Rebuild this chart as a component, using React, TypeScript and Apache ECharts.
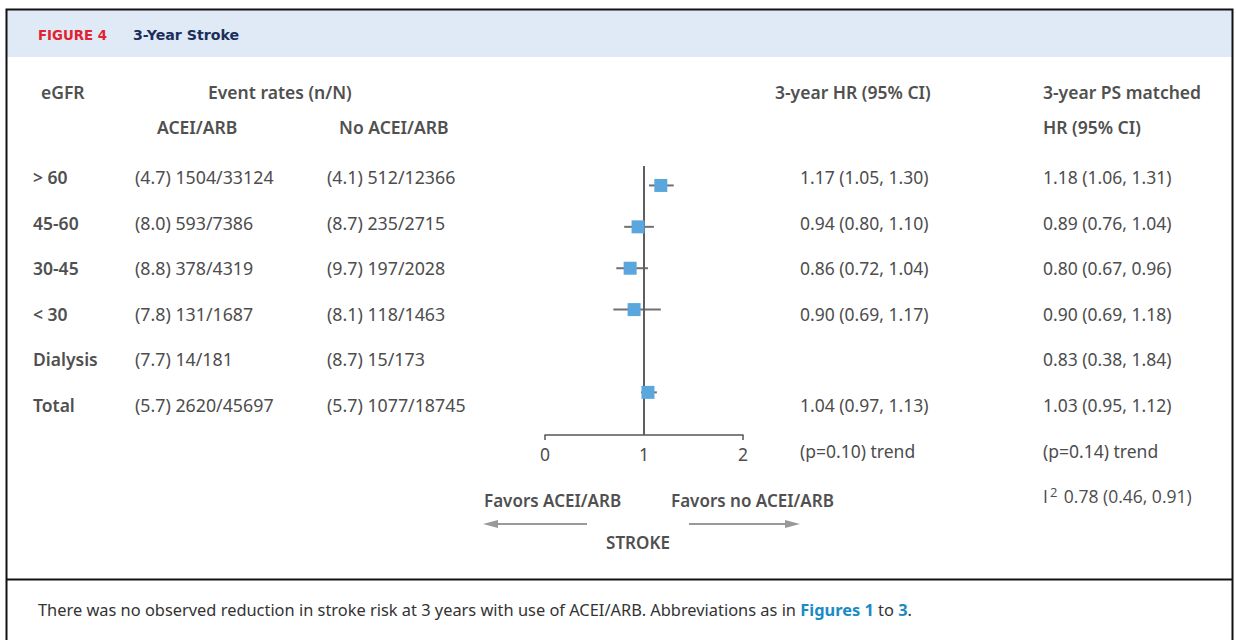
import React, { useEffect, useRef } from "react";
import * as echarts from "echarts";

const groups = ["> 60", "45-60", "30-45", "< 30", "Dialysis", "Total"];
const aceiRates = ["(4.7) 1504/33124", "(8.0) 593/7386", "(8.8) 378/4319", "(7.8) 131/1687", "(7.7) 14/181", "(5.7) 2620/45697"];
const noAceiRates = ["(4.1) 512/12366", "(8.7) 235/2715", "(9.7) 197/2028", "(8.1) 118/1463", "(8.7) 15/173", "(5.7) 1077/18745"];
const hr: (number | null)[] = [1.17, 0.94, 0.86, 0.9, null, 1.04];
const hrLo: (number | null)[] = [1.05, 0.8, 0.72, 0.69, null, 0.97];
const hrHi: (number | null)[] = [1.3, 1.1, 1.04, 1.17, null, 1.13];
const psHr = [1.18, 0.89, 0.8, 0.9, 0.83, 1.03];
const psLo = [1.06, 0.76, 0.67, 0.69, 0.38, 0.95];
const psHi = [1.31, 1.04, 0.96, 1.18, 1.84, 1.12];
const xTicks = [0, 1, 2];
const trendHr = "(p=0.10) trend";
const trendPs = "(p=0.14) trend";
const i2Text = "0.78 (0.46, 0.91)";

const FONT = "Noto Sans";
const TXT = "#4d4d4d";

function fmt(v: number, lo: number, hi: number) {
  return `${v.toFixed(2)} (${lo.toFixed(2)}, ${hi.toFixed(2)})`;
}

export default function App() {
  const ref = useRef<HTMLDivElement>(null);
  useEffect(() => {
    if (!ref.current) return;
    const chart = echarts.init(ref.current, null, { renderer: "svg" });

    const txt = (text: string, x: number, y: number, opts: any = {}) => ({
      type: "text",
      x,
      y,
      silent: true,
      style: {
        text,
        fill: opts.fill || TXT,
        fontFamily: opts.family || FONT,
        fontSize: opts.size || 17.5,
        fontWeight: opts.weight || "normal",
        align: opts.align || "left",
        verticalAlign: "middle",
        rich: opts.rich,
      },
    });

    const rowY = (i: number) => 177 + 45.6 * i;
    const elements: any[] = [];
    // frame
    elements.push({ type: "rect", shape: { x: 7, y: 10, width: 1225, height: 47 }, style: { fill: "#dfeaf6" }, silent: true });
    elements.push({ type: "rect", shape: { x: 6.5, y: 9.5, width: 1226, height: 660 }, style: { fill: "none", stroke: "#111", lineWidth: 2 }, silent: true });
    elements.push({ type: "line", shape: { x1: 6.5, y1: 579.5, x2: 1232.5, y2: 579.5 }, style: { stroke: "#111", lineWidth: 2 }, silent: true });
    // title
    elements.push(txt("FIGURE 4", 38, 35, { family: "DejaVu Sans", size: 13.3, weight: "bold", fill: "#e1232f" }));
    elements.push(txt("3-Year Stroke", 133, 35, { family: "DejaVu Sans", size: 14.2, weight: "bold", fill: "#1b2f5b" }));
    // headers
    const hw = "600";
    const HC = "#505050";
    elements.push(txt("eGFR", 41, 92, { weight: hw, fill: HC }));
    elements.push(txt("Event rates (n/N)", 208, 92, { weight: hw, fill: HC }));
    elements.push(txt("ACEI/ARB", 157, 127, { weight: hw, fill: HC }));
    elements.push(txt("No ACEI/ARB", 339, 127, { weight: hw, fill: HC }));
    elements.push(txt("3-year HR (95% CI)", 775, 92, { weight: hw, fill: HC }));
    elements.push(txt("3-year PS matched", 1043, 92, { weight: hw, fill: HC }));
    elements.push(txt("HR (95% CI)", 1043, 127, { weight: hw, fill: HC }));
    // rows
    groups.forEach((g, i) => {
      const y = rowY(i);
      elements.push(txt(g, 33, y, { weight: hw, fill: HC }));
      elements.push(txt(aceiRates[i], 135, y, { size: 17.8 }));
      elements.push(txt(noAceiRates[i], 327, y, { size: 17.8 }));
      const h = hr[i];
      if (h !== null) elements.push(txt(fmt(h, hrLo[i] as number, hrHi[i] as number), 800, y));
      elements.push(txt(fmt(psHr[i], psLo[i], psHi[i]), 1043, y));
    });
    elements.push(txt(trendHr, 800, rowY(6)));
    elements.push(txt(trendPs, 1043, rowY(6)));
    elements.push(
      txt("{n|I}{s|2}{n| " + i2Text + "}", 1043, rowY(7), {
        rich: {
          n: { fontFamily: "Open Sans", fontSize: 17.5, fill: TXT },
          s: { fontFamily: "Open Sans", fontSize: 13, fill: TXT, verticalAlign: "top", padding: [0, 2, 9, 2] },
        },
      })
    );
    // favors labels + arrows
    elements.push(txt("Favors ACEI/ARB", 484, 500, { weight: hw, size: 17, fill: HC }));
    elements.push(txt("Favors no ACEI/ARB", 671, 500, { weight: hw, size: 17, fill: HC }));
    elements.push(txt("STROKE", 638, 542, { weight: hw, size: 17, align: "center", fill: HC }));
    const ac = "#999";
    elements.push({ type: "line", shape: { x1: 587, y1: 524, x2: 495, y2: 524 }, style: { stroke: ac, lineWidth: 2 }, silent: true });
    elements.push({ type: "polygon", shape: { points: [[483, 524], [498, 520], [498, 528]] }, style: { fill: ac }, silent: true });
    elements.push({ type: "line", shape: { x1: 689, y1: 524, x2: 787, y2: 524 }, style: { stroke: ac, lineWidth: 2 }, silent: true });
    elements.push({ type: "polygon", shape: { points: [[800, 524], [785, 520], [785, 528]] }, style: { fill: ac }, silent: true });
    // caption
    elements.push(
      txt("There was no observed reduction in stroke risk at 3 years with use of ACEI/ARB. Abbreviations as in {b|Figures 1} to {b|3}.", 38, 609, {
        size: 16.4,
        fill: "#333",
        rich: {
          b: { fontFamily: FONT, fontSize: 16.4, fontWeight: "bold", fill: "#1a8bc3" },
        },
      })
    );

    const ciData: any[] = [];
    const ptData: any[] = [];
    hr.forEach((h, i) => {
      if (h === null) return;
      ciData.push([hrLo[i], hrHi[i], i]);
      ptData.push([h, i]);
    });

    chart.setOption({
      animation: false,
      grid: { left: 545, width: 198, top: 166, height: 269 },
      xAxis: {
        type: "value",
        min: 0,
        max: 2,
        interval: 1,
        axisLine: { show: true, onZero: false, lineStyle: { color: "#555", width: 1.5 } },
        axisTick: { show: true, customValues: [xTicks[0], xTicks[2]], length: 5, lineStyle: { color: "#555", width: 1.5 } },
        axisLabel: { fontSize: 17.5, color: TXT, fontFamily: FONT, margin: 10, customValues: xTicks },
        splitLine: { show: false },
      },
      yAxis: { type: "value", min: -0.47, max: 6.03, inverse: true, show: false },
      graphic: elements,
      series: [
        {
          type: "custom",
          z: 2,
          data: ciData,
          encode: { x: [0, 1], y: 2 },
          renderItem: (params: any, api: any) => {
            const p1 = api.coord([api.value(0), api.value(2)]);
            const p2 = api.coord([api.value(1), api.value(2)]);
            return {
              type: "line",
              shape: { x1: p1[0], y1: p1[1], x2: p2[0], y2: p2[1] },
              style: { stroke: "#707070", lineWidth: 2 },
            };
          },
          markLine: {
            silent: true,
            symbol: "none",
            label: { show: false },
            lineStyle: { color: "#5e5e5e", width: 2, type: "solid" },
            data: [{ xAxis: 1 }],
          },
        },
        {
          type: "scatter",
          z: 5,
          symbol: "rect",
          symbolSize: 13,
          itemStyle: { color: "#5ba6dc", opacity: 1 },
          data: ptData,
        },
      ],
    });
    return () => chart.dispose();
  }, []);
  return <div ref={ref} style={{ position: "fixed", left: 0, top: 0, width: 1236, height: 640, background: "#fff" }} />;
}
